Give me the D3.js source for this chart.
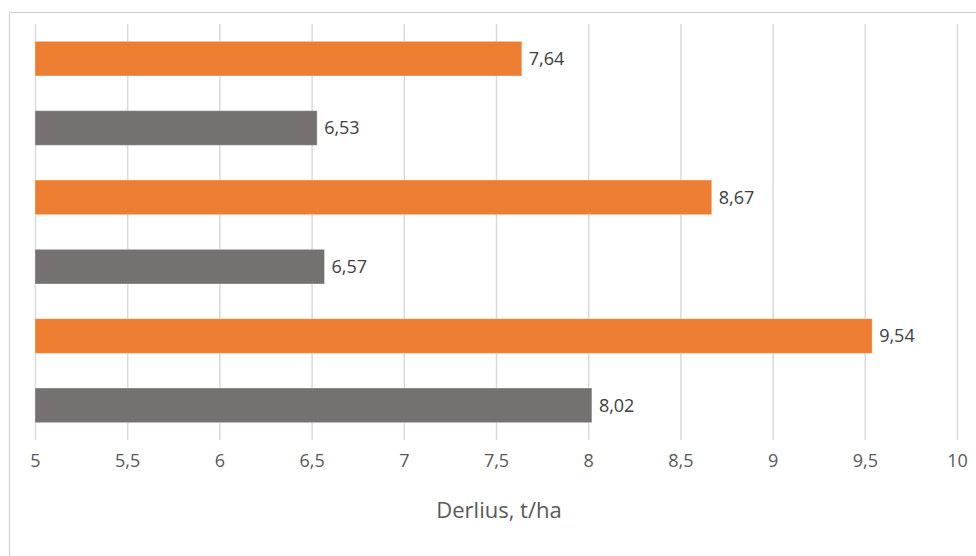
<!DOCTYPE html>
<html>
<head>
<meta charset="utf-8">
<script src="https://cdn.jsdelivr.net/npm/d3@7"></script>
<style>
  body { margin: 0; background: #fff; }
  svg { display: block; font-family: "Open Sans", "Liberation Sans", sans-serif; }
</style>
</head>
<body>
<svg id="chart"></svg>
<script>
// Datos (de arriba hacia abajo)
const categories = ['r1', 'r2', 'r3', 'r4', 'r5', 'r6'];
const values = [7.64, 6.53, 8.67, 6.57, 9.54, 8.02];
const groups = ['a', 'b', 'a', 'b', 'a', 'b'];
const ticks = [5, 5.5, 6, 6.5, 7, 7.5, 8, 8.5, 9, 9.5, 10];
const axisTitle = 'Derlius, t/ha';

const width = 976;
const height = 556;

const colors = d3.scaleOrdinal().domain(['a', 'b']).range(['#ED7D31', '#767171']);
const fmt = v => String(v).replace('.', ',');

const svg = d3.select('#chart')
    .attr('width', width)
    .attr('height', height);

// Marco del gráfico
svg.append('rect')
    .attr('x', 9.5).attr('y', 12.5)
    .attr('width', 1000).attr('height', 600)
    .attr('fill', 'none')
    .attr('stroke', '#d0d0d0')
    .attr('stroke-width', 1.2);

const x = d3.scaleLinear().domain([5, 10]).range([35, 957]);
const y = d3.scaleBand().domain(categories).range([24, 440])
    .paddingInner(0.5).paddingOuter(0.25);

// Rejilla vertical
svg.append('g')
    .attr('transform', 'translate(0,440)')
    .call(d3.axisBottom(x).tickValues(ticks).tickSize(-416).tickFormat(fmt).tickPadding(14))
    .call(g => g.select('.domain').remove())
    .call(g => g.selectAll('.tick line').attr('stroke', '#d9d9d9').attr('stroke-width', 1.5))
    .call(g => g.selectAll('.tick text')
        .attr('fill', '#595959')
        .style('font-size', '18px')
        .style('font-family', '"Open Sans", sans-serif'));

// Barras
svg.append('g').selectAll('rect')
    .data(values)
    .enter().append('rect')
    .attr('x', x(5))
    .attr('y', (d, i) => y(categories[i]))
    .attr('width', d => x(d) - x(5))
    .attr('height', y.bandwidth())
    .attr('fill', (d, i) => colors(groups[i]))
    .attr('stroke', 'rgba(255,255,255,0.35)')
    .attr('stroke-width', 1);

// Etiquetas de valor
svg.append('g').selectAll('text')
    .data(values)
    .enter().append('text')
    .attr('x', d => x(d) + 7)
    .attr('y', (d, i) => y(categories[i]) + y.bandwidth() / 2)
    .attr('dy', '0.35em')
    .attr('fill', '#404040')
    .style('font-size', '18px')
    .text(fmt);

// Título del eje
svg.append('text')
    .attr('x', 499)
    .attr('y', 518)
    .attr('text-anchor', 'middle')
    .attr('fill', '#595959')
    .style('font-size', '22px')
    .text(axisTitle);
</script>
</body>
</html>
